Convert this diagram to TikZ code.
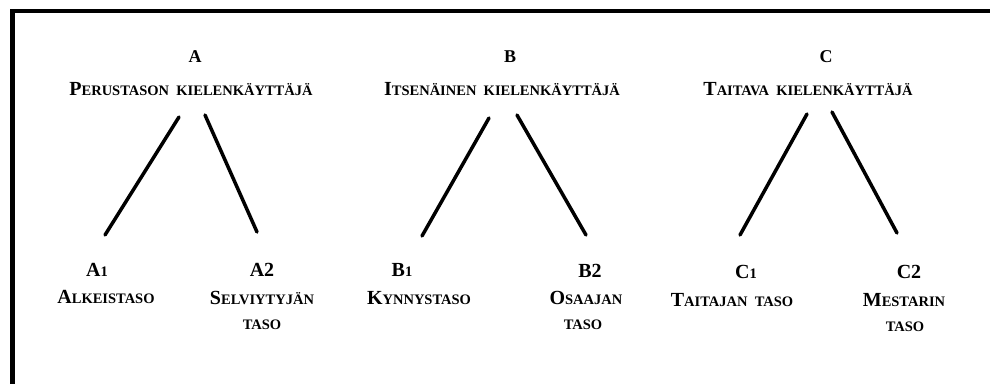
\documentclass[tikz,border=0pt]{standalone}
\usepackage{fontspec}
\setmainfont{Liberation Serif}
% bold fake small caps: full capital, then reduced capitals
\newcommand\bigc[1]{{\fontsize{20}{22}\selectfont\bfseries #1}}
\newcommand\lowc[1]{{\fontsize{14.5}{16}\selectfont\bfseries #1}}
\newcommand\headc[1]{{\fontsize{18}{20}\selectfont\bfseries #1}}
\begin{document}
\begin{tikzpicture}[x=1pt,y=-1pt,
  lbl/.style={inner sep=0pt,align=center,font=\bfseries},
  branch/.style={line width=3.5pt,line cap=round}]
\useasboundingbox (0,0) rectangle (990,383);
% frame, running off the right and bottom edges
\draw[line width=4.5pt] (12.5,395) -- (12.5,11) -- (1000,11);

% level headings
\node[lbl] (A)  at (195,57) {\headc{A}};
\node[lbl] (Ad) at (191,89) {\bigc{P}\lowc{ERUSTASON\ \ KIELENKÄYTTÄJÄ}};
\node[lbl] (B)  at (510,57) {\headc{B}};
\node[lbl] (Bd) at (502,89) {\bigc{I}\lowc{TSENÄINEN\ \ KIELENKÄYTTÄJÄ}};
\node[lbl] (C)  at (826,57) {\headc{C}};
\node[lbl] (Cd) at (808,89) {\bigc{T}\lowc{AITAVA\ \ KIELENKÄYTTÄJÄ}};

% sub-levels
\node[lbl] (A1)  at (97,270)  {\bigc{A}\lowc{1}};
\node[lbl] (A1d) at (106,297) {\bigc{A}\lowc{LKEISTASO}};
\node[lbl] (A2)  at (262,270) {\bigc{A2}};
\node[lbl] (A2d) at (262,298) {\bigc{S}\lowc{ELVIYTYJÄN}};
\node[lbl] (A2t) at (262,325) {\lowc{TASO}};
\node[lbl] (B1)  at (402,270) {\bigc{B}\lowc{1}};
\node[lbl] (B1d) at (419,298) {\bigc{K}\lowc{YNNYSTASO}};
\node[lbl] (B2)  at (590,271) {\bigc{B2}};
\node[lbl] (B2d) at (586,298) {\bigc{O}\lowc{SAAJAN}};
\node[lbl] (B2t) at (583,325) {\lowc{TASO}};
\node[lbl] (C1)  at (746,272) {\bigc{C}\lowc{1}};
\node[lbl] (C1d) at (732,300) {\bigc{T}\lowc{AITAJAN\ \ TASO}};
\node[lbl] (C2)  at (909,272) {\bigc{C2}};
\node[lbl] (C2d) at (904,300) {\bigc{M}\lowc{ESTARIN}};
\node[lbl] (C2t) at (905,327) {\lowc{TASO}};

% branch end points
\coordinate (a1) at (179,117); \coordinate (a1e) at (105,235);
\coordinate (a2) at (205,115); \coordinate (a2e) at (257,232);
\coordinate (b1) at (489,118); \coordinate (b1e) at (422,236);
\coordinate (b2) at (517,115); \coordinate (b2e) at (586,235);
\coordinate (c1) at (807,114); \coordinate (c1e) at (740,235);
\coordinate (c2) at (832,112); \coordinate (c2e) at (897,233);

\draw[branch] (a1) -- (a1e);
\draw[branch] (a2) -- (a2e);
\draw[branch] (b1) -- (b1e);
\draw[branch] (b2) -- (b2e);
\draw[branch] (c1) -- (c1e);
\draw[branch] (c2) -- (c2e);
\end{tikzpicture}
\end{document}
